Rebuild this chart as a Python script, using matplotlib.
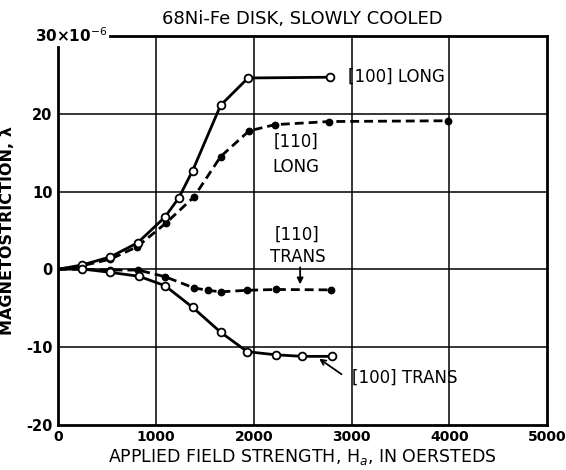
import matplotlib
matplotlib.use("Agg")
import matplotlib.pyplot as plt

plt.rcParams['font.family'] = ['DejaVu Sans']

# ---- data (field in oersteds, magnetostriction x 1e-6) ----
long100_x = [0, 246, 536, 813, 1092, 1235, 1376, 1662, 1942, 2781]
long100_y = [0, 0.55, 1.6, 3.4, 6.7, 9.2, 12.7, 21.1, 24.6, 24.7]

long110_x = [0, 246, 536, 809, 1099, 1389, 1662, 1952, 2218, 2771, 3986]
long110_y = [0, 0.45, 1.3, 2.9, 5.9, 9.3, 14.5, 17.8, 18.6, 19.0, 19.1]

trans110_x = [0, 246, 536, 819, 1092, 1389, 1529, 1662, 1934, 2228, 2791]
trans110_y = [0, 0.0, -0.1, -0.1, -0.95, -2.4, -2.7, -2.9, -2.7, -2.6, -2.65]

trans100_x = [0, 246, 536, 826, 1092, 1376, 1662, 1934, 2225, 2497, 2798]
trans100_y = [0, 0.04, -0.4, -0.9, -2.1, -4.9, -8.1, -10.6, -11.0, -11.2, -11.2]

x_ticks = [0, 1000, 2000, 3000, 4000, 5000]
y_ticks = [-20, -10, 0, 10, 20, 30]
y_ticklabels = ['-20', '-10', '0', '10', '20', '']

fig = plt.figure(figsize=(5.66, 4.70), dpi=100)
ax = fig.add_axes([0.1025, 0.0962, 0.8645, 0.8272])
ax.set_xlim(0, 5000)
ax.set_ylim(-20, 30)

# grid
for xv in x_ticks[1:-1]:
    ax.axvline(xv, color='black', lw=1.1, zorder=1)
for yv in y_ticks[1:-1]:
    ax.axhline(yv, color='black', lw=1.1, zorder=1)

dash = (0, (3.2, 1.8))
# [110] dashed, filled markers
ax.plot(long110_x, long110_y, color='black', lw=2.0, ls=dash, zorder=2)
ax.plot(long110_x[1:], long110_y[1:], 'o', color='black', ms=4.6, zorder=3)
ax.plot(trans110_x, trans110_y, color='black', lw=2.0, ls=dash, zorder=2)
ax.plot(trans110_x[1:], trans110_y[1:], 'o', color='black', ms=4.6, zorder=3)

# [100] solid, open markers
ax.plot(long100_x, long100_y, color='black', lw=2.0, zorder=4)
ax.plot(long100_x[1:], long100_y[1:], 'o', mfc='white', mec='black', mew=1.3, ms=5.6, zorder=5)
ax.plot(trans100_x, trans100_y, color='black', lw=2.0, zorder=4)
ax.plot(trans100_x[1:], trans100_y[1:], 'o', mfc='white', mec='black', mew=1.3, ms=5.6, zorder=5)

# frame
for s in ax.spines.values():
    s.set_linewidth(2.0)
ax.spines['top'].set_bounds(530, 5000)
ax.spines['left'].set_bounds(-20, 28.6)

ax.set_xticks(x_ticks)
ax.set_xticklabels([str(v) for v in x_ticks], fontsize=10, fontweight='bold')
ax.set_yticks(y_ticks)
ax.set_yticklabels(y_ticklabels, fontsize=10.5, fontweight='bold')
ax.tick_params(length=0, pad=4)

ax.text(505, 30, '30\u00d710$^{-6}$', ha='right', va='center', fontsize=11,
        fontweight='bold')

ax.set_title('68Ni-Fe DISK, SLOWLY COOLED', fontsize=13, pad=9)
ax.set_xlabel('APPLIED FIELD STRENGTH, H$_a$, IN OERSTEDS', fontsize=12.5, labelpad=2)
ax.set_ylabel('MAGNETOSTRICTION, \u03bb', fontsize=11.5, fontweight='bold')
ax.yaxis.set_label_coords(-0.088, 0.5)

# annotations
fs = 12
ax.text(2965, 24.75, '[100] LONG', ha='left', va='center', fontsize=fs)
ax.text(2430, 16.4, '[110]', ha='center', va='center', fontsize=fs)
ax.text(2430, 13.2, 'LONG', ha='center', va='center', fontsize=fs)
ax.text(2440, 4.4, '[110]', ha='center', va='center', fontsize=fs)
ax.text(2450, 1.6, 'TRANS', ha='center', va='center', fontsize=fs)
ax.annotate('', xy=(2474, -2.3), xytext=(2474, 0.6),
            arrowprops=dict(arrowstyle='-|>', color='black', lw=1.3,
                            mutation_scale=9))
ax.text(3003, -14.0, '[100] TRANS', ha='left', va='center', fontsize=fs)
ax.annotate('', xy=(2645, -11.3), xytext=(2920, -13.7),
            arrowprops=dict(arrowstyle='->', color='black', lw=1.3,
                            mutation_scale=9))

fig.savefig('out.png', dpi=100)
